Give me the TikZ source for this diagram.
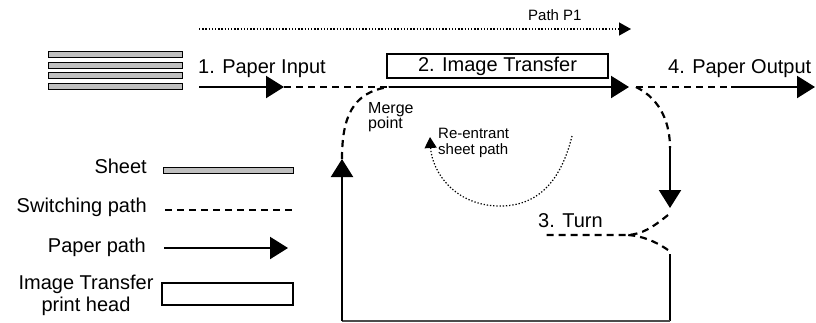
\documentclass[tikz,border=0pt]{standalone}
\usepackage{fontspec}
\setmainfont{Liberation Sans}
\usetikzlibrary{arrows.meta, positioning}

\tikzstyle{sheet} = [rectangle, draw=black, fill=gray!50, line width=0.8pt, minimum width=134pt, minimum height=6pt, inner sep=0pt]
\tikzstyle{printhead} = [rectangle, draw=black, line width=1.5pt, fill=white, inner sep=0pt]
\tikzstyle{switching} = [line width=2.2pt, dash pattern=on 7pt off 5pt]
\tikzstyle{paperpath} = [line width=2.2pt, -{Triangle[length=18pt,width=22pt]}]
\tikzstyle{guide} = [line width=1.3pt, dash pattern=on 1.3pt off 1.9pt, -{Triangle[length=12pt,width=13pt]}]
\tikzstyle{big} = [font=\fontsize{20}{22}\selectfont, inner sep=0pt]
\tikzstyle{small} = [font=\fontsize{15}{16}\selectfont, inner sep=0pt, align=left]

\begin{document}
\begin{tikzpicture}[x=1pt, y=1pt]
\useasboundingbox (0,0) rectangle (816,-322);

% input stack of sheets
\foreach \y [count=\i] in {54,65,75,86}
  \node (sheet\i) [sheet] at (115.5,-\y) {};

% path P1
\coordinate (p1start) at (199,-29);
\coordinate (p1end) at (631,-29);
\draw [guide] (p1start) -- (p1end);
\node (p1lbl) [small, anchor=base west] at (528,-20) {Path P1};

% main paper path
\coordinate (feed) at (199,-87);
\coordinate (feedtip) at (284,-87);
\coordinate (merge) at (389,-87);
\coordinate (xfertip) at (629,-87);
\coordinate (split) at (636,-87);
\coordinate (outstart) at (731,-87);
\coordinate (outtip) at (815,-87);

\node (xfer) [printhead, big, minimum width=221pt, minimum height=24pt] at (497.5,-66) {2. Image Transfer};
\node (inlbl) [big, anchor=base west] at (198,-73) {1. Paper Input};
\node (outlbl) [big, anchor=base west] at (668,-73) {4. Paper Output};

\draw [paperpath] (feed) -- (feedtip);
\draw [switching] (feedtip) -- (merge);
\draw [paperpath] (merge) -- (xfertip);
\draw [switching] (split) -- (outstart);
\draw [paperpath] (outstart) -- (outtip);

% turn loop
\coordinate (drop) at (670,-148);
\coordinate (droptip) at (670,-208);
\coordinate (turntop) at (668,-215);
\coordinate (turn) at (628,-235);
\coordinate (turnend) at (542,-235);
\coordinate (back) at (670,-254);
\coordinate (turnbot) at (668,-250);
\coordinate (cornerR) at (670,-321);
\coordinate (cornerL) at (342,-321);
\coordinate (rise) at (342,-159);

\draw [switching] (split) .. controls (662,-100) and (670,-125) .. (drop);
\draw [paperpath] (drop) -- (droptip);
\draw [switching] (turntop) .. controls (652,-228) and (642,-234) .. (turn) -- (turnend);
\draw [switching] (turnbot) .. controls (655,-241) and (642,-236) .. (turn);
\node (turnlbl) [big, anchor=base west] at (538,-227) {3. Turn};

\draw [line width=2.2pt] (back) -- (cornerR);
\draw [line width=1.5pt, draw=black!70] (cornerR) -- (cornerL);
\draw [paperpath] (cornerL) -- (rise);
\draw [switching] (rise) .. controls (342,-118) and (352,-92) .. (merge);
\node (mergelbl) [small, font=\fontsize{16}{15.5}\selectfont, anchor=north west] at (368,-102) {Merge\\point};

% re-entrant sheet path
\coordinate (loopstart) at (572,-136);
\coordinate (loopend) at (430,-137);
\draw [line width=1.2pt, dash pattern=on 1.3pt off 1.9pt, -{Triangle[length=11pt,width=12pt]}]
  (loopstart) .. controls (560,-185) and (535,-206) .. (500,-206)
  .. controls (455,-206) and (432,-172) .. (loopend);
\node (looplbl) [small, anchor=north west] at (438,-128) {Re-entrant\\sheet path};

% legend
\node (keysheet) [sheet, minimum width=130pt] at (228,-170) {};
\node (keysheetlbl) [big, anchor=base east] at (147,-173) {Sheet};
\coordinate (keysw1) at (165,-210);
\coordinate (keysw2) at (292,-210);
\draw [switching] (keysw1) -- (keysw2);
\node (keyswlbl) [big, anchor=base east] at (147,-212) {Switching path};
\coordinate (keypp1) at (164,-248);
\coordinate (keypp2) at (288,-248);
\draw [paperpath] (keypp1) -- (keypp2);
\node (keypplbl) [big, anchor=base east] at (146,-252) {Paper path};
\node (keyhead) [printhead, minimum width=131pt, minimum height=22pt] at (227.5,-294) {};
\node (keyheadlbl) [big, align=center, font=\fontsize{20}{22}\selectfont, anchor=north] at (86,-275) {Image Transfer\\print head};

\end{tikzpicture}
\end{document}
